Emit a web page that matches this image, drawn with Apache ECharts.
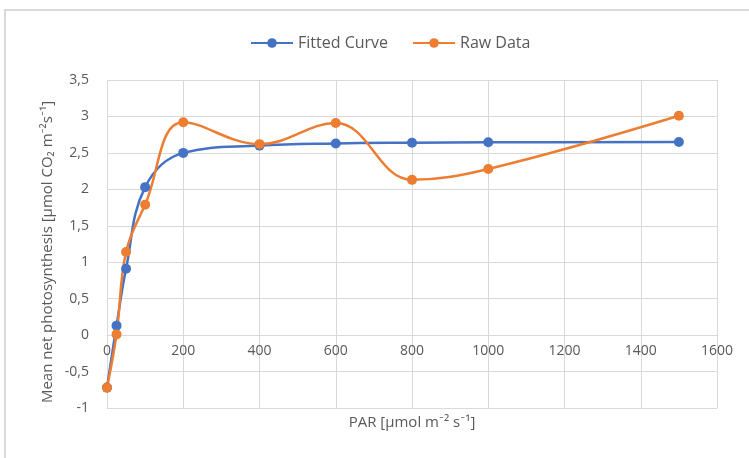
<!DOCTYPE html>
<html>
<head>
<meta charset="utf-8">
<script src="https://cdn.jsdelivr.net/npm/echarts@6/dist/echarts.min.js"></script>
<style>
html,body{margin:0;padding:0;background:#fff;}
#chart{width:749px;height:458px;}
</style>
</head>
<body>
<div id="chart"></div>
<script>
var parX = [0, 25, 50, 100, 200, 400, 600, 800, 1000, 1500];
var fittedCurve = [-0.72, 0.13, 0.91, 2.03, 2.50, 2.60, 2.63, 2.64, 2.645, 2.65];
var rawData = [-0.72, 0.01, 1.14, 1.79, 2.92, 2.62, 2.91, 2.13, 2.28, 3.01];
var seriesNames = ['Fitted Curve', 'Raw Data'];
var xName = 'PAR [µmol m\u207B\u00B2 s\u207B\u00B9]';
var yName = 'Mean net photosynthesis [µmol CO\u2082 m\u207B\u00B2s\u207B\u00B9]';

function pairs(xs, ys){ return xs.map(function(x,i){return [x, ys[i]];}); }
var font = '"Open Sans", Lato, sans-serif';
var txt = '#595959';
var chart = echarts.init(document.getElementById('chart'));
chart.setOption({
  animation: false,
  textStyle: {fontFamily: font},
  graphic: [{
    type: 'rect', shape: {x: 5, y: 10, width: 760, height: 470},
    style: {fill: 'none', stroke: '#d9d9d9', lineWidth: 2}, silent: true
  }],
  legend: {
    top: 30, left: 245, itemWidth: 42, itemHeight: 12, itemGap: 24,
    textStyle: {color: txt, fontSize: 16, fontFamily: font},
    data: seriesNames
  },
  grid: {left: 107, right: 32, top: 80, bottom: 50, containLabel: false, outerBoundsMode: 'none'},
  xAxis: {
    type: 'value', min: 0, max: 1600, interval: 200,
    name: xName, nameLocation: 'middle', nameGap: 7, nameMoveOverlap: false,
    nameTextStyle: {color: txt, fontSize: 15, fontFamily: font},
    axisLine: {show: true, onZero: true, lineStyle: {color: '#d9d9d9', width: 1}},
    axisTick: {show: false},
    axisLabel: {color: txt, fontSize: 14, margin: -64, fontFamily: font,
      formatter: function(v){ return String(v); }},
    splitLine: {show: true, lineStyle: {color: '#d9d9d9', width: 1}}
  },
  yAxis: {
    type: 'value', min: -1, max: 3.5, interval: 0.5,
    name: yName, nameLocation: 'middle', nameGap: 52, nameRotate: 90, nameMoveOverlap: false,
    nameTextStyle: {color: txt, fontSize: 15, fontFamily: font, padding: [0, 16, 0, 0]},
    axisLine: {show: false}, axisTick: {show: false},
    axisLabel: {color: txt, fontSize: 14, margin: 18, fontFamily: font,
      formatter: function(v){ return String(v).replace('.', ','); }},
    splitLine: {show: true, lineStyle: {color: '#d9d9d9', width: 1}}
  },
  series: [{
    name: seriesNames[0], type: 'line', smooth: 0.4,
    data: pairs(parX, fittedCurve),
    symbol: 'circle', symbolSize: 10,
    itemStyle: {color: '#4472C4'}, lineStyle: {color: '#4472C4', width: 2.5}
  }, {
    name: seriesNames[1], type: 'line', smooth: 0.4,
    data: pairs(parX, rawData),
    symbol: 'circle', symbolSize: 10,
    itemStyle: {color: '#ED7D31'}, lineStyle: {color: '#ED7D31', width: 2.5}
  }]
});
</script>
</body>
</html>
